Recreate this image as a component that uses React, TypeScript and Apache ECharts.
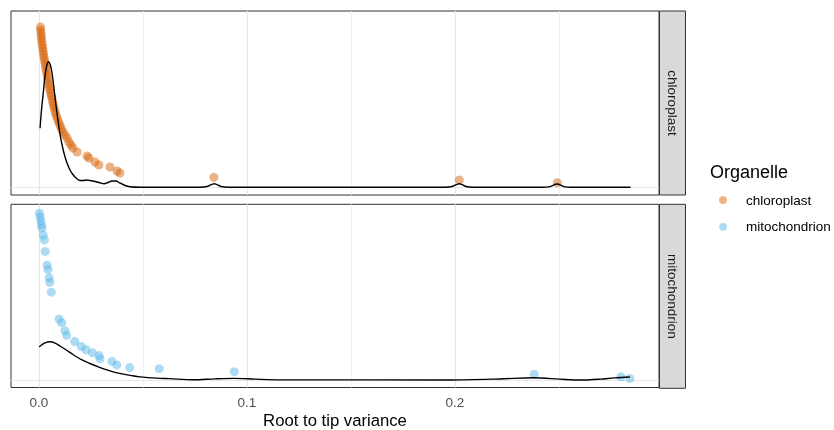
import React, { useEffect, useRef } from "react";
import * as echarts from "echarts";

// Organelles (legend / facet order)
const organelles = ["chloroplast", "mitochondrion"];
const xTickValues = [0, 0.1, 0.2];
const xMinorGrid = [0.05, 0.15, 0.25];

// [root-to-tip variance, relative height]
const chloroplastPoints: number[][] = [
  [0.0007, 160.3], [0.0008, 157.3], [0.001, 154.3], [0.0011, 151.3], [0.0012, 148.3],
  [0.0014, 145.3], [0.0016, 142.3], [0.0018, 139.3], [0.002, 136.3], [0.0022, 133.3],
  [0.0024, 130.3], [0.0026, 127.3], [0.0029, 124.3], [0.0031, 121.3], [0.0034, 118.3],
  [0.0036, 115.3], [0.0039, 112.3], [0.0041, 109.3], [0.0043, 106.3], [0.0047, 103.3],
  [0.005, 100.3], [0.0053, 97.3], [0.0056, 94.3], [0.0059, 91.3], [0.0063, 88.3],
  [0.0066, 85.3], [0.0069, 82.3], [0.0072, 79.3], [0.0077, 76.3], [0.008, 73.3],
  [0.0085, 70.3], [0.0091, 67.3], [0.0096, 64.3], [0.0102, 61.3], [0.0108, 58.3],
  [0.0115, 55.3], [0.0125, 52.3], [0.0135, 49.3], [0.0144, 45.3], [0.0154, 42.3],
  [0.0163, 39.3], [0.0183, 35.3], [0.0231, 31.3], [0.024, 29.3], [0.0269, 25.3],
  [0.0288, 22.3], [0.0341, 20.3], [0.0375, 16.3], [0.0389, 14.3], [0.0841, 10.0],
  [0.2021, 7.3], [0.2492, 4.6],
];

const mitochondrionPoints: number[][] = [
  [0.0002, 167.4], [0.0006, 163.7], [0.0009, 159.7], [0.0012, 155.7], [0.0014, 152.4],
  [0.002, 145.4], [0.0026, 140.7], [0.003, 129], [0.0039, 115.2], [0.0043, 110.7],
  [0.0049, 102.4], [0.0052, 97.9], [0.0059, 88], [0.0097, 61], [0.0109, 57.4],
  [0.0125, 49.4], [0.0133, 44.7], [0.0172, 38.5], [0.0203, 33.5], [0.0226, 30.2],
  [0.0257, 27.2], [0.0289, 24.4], [0.0293, 21.1], [0.0351, 18.5], [0.0374, 15],
  [0.0436, 12.4], [0.0578, 11.2], [0.0939, 8.2], [0.2381, 5.7], [0.2798, 3],
  [0.2841, 1.4],
];

// density curves [variance, relative density]
const chloroplastDensity: number[][] = [
  [0.0005, 59], [0.0012, 77.3], [0.0021, 95.3], [0.0029, 111.3], [0.0037, 121.3],
  [0.0045, 125.6], [0.0053, 123.3], [0.0061, 116.3], [0.0069, 104.3], [0.0077, 90.3],
  [0.0085, 76.3], [0.0093, 64.3], [0.0101, 53.3], [0.0109, 44.3], [0.012, 34.3],
  [0.0133, 25.3], [0.0149, 17.3], [0.0165, 12.3], [0.0181, 8.8], [0.0197, 6.8],
  [0.0213, 6.8], [0.0229, 7.3], [0.0245, 6.8], [0.0269, 5.8], [0.0293, 4.5],
  [0.0313, 3.5], [0.0332, 4.8], [0.0351, 6.3], [0.037, 6.3], [0.0389, 4.3],
  [0.0414, 1.8], [0.0438, 0.5], [0.0486, 0], [0.0774, 0], [0.0808, 0.8],
  [0.0843, 3.6], [0.0875, 0.8], [0.0909, 0], [0.1952, 0], [0.1986, 0.8],
  [0.2021, 3.6], [0.2053, 0.8], [0.2087, 0], [0.2423, 0], [0.2457, 0.7],
  [0.2492, 3.3], [0.2524, 0.7], [0.2558, 0], [0.2844, 0],
];

const mitochondrionDensity: number[][] = [
  [0.0001, 33], [0.0014, 35.2], [0.0029, 37.2], [0.0053, 38.2], [0.0077, 36.9],
  [0.0101, 34], [0.0133, 29.7], [0.0165, 25.2], [0.0205, 20.2], [0.0245, 16.4],
  [0.0285, 13], [0.0326, 10], [0.0365, 7.5], [0.0405, 5.7], [0.0446, 4.2],
  [0.0486, 3], [0.0566, 1.7], [0.063, 1.2], [0.074, 0.1], [0.0846, 1],
  [0.0938, 1.5], [0.1039, 0.7], [0.1159, 0], [0.1976, -0.1], [0.2216, 0.9],
  [0.238, 2.1], [0.2505, 0.7], [0.2601, -0.2], [0.2697, 0.7], [0.2769, 2],
  [0.2841, 2.9],
];

const X_MIN = -0.01346;
const X_MAX = 0.2981;
const Y_MIN = -7.7;
const Y_MAX = 176.3;

const FONT = "'Liberation Sans', Arial, Helvetica, sans-serif";
const COLORS = ["rgba(213,94,0,0.6)", "rgba(86,180,233,0.6)"];

export default function App() {
  const ref = useRef<HTMLDivElement>(null);
  useEffect(() => {
    if (!ref.current) return;
    const chart = echarts.init(ref.current, null, { renderer: "svg" });

    const panels = [
      { top: 11, height: 184 },
      { top: 204.3, height: 184 },
    ];
    const gridMarks = {
      silent: true,
      z: 1,
      symbol: ["none", "none"],
      label: { show: false },
      animation: false,
      data: [
        ...xTickValues.map((v) => ({ xAxis: v, lineStyle: { color: "#E6E6E6", width: 1.1, type: "solid" } })),
        ...xMinorGrid.map((v) => ({ xAxis: v, lineStyle: { color: "#EFEFEF", width: 0.8, type: "solid" } })),
        { yAxis: 0, lineStyle: { color: "#E6E6E6", width: 1.1, type: "solid" } },
      ],
    };

    const pointSets = [chloroplastPoints, mitochondrionPoints];
    const densitySets = [chloroplastDensity, mitochondrionDensity];

    const series: any[] = [];
    organelles.forEach((name, i) => {
      series.push({
        type: "line",
        name: "grid-" + name,
        xAxisIndex: i,
        yAxisIndex: i,
        data: [],
        z: 1,
        markLine: gridMarks,
      });
      series.push({
        type: "scatter",
        name,
        xAxisIndex: i,
        yAxisIndex: i,
        data: pointSets[i],
        symbolSize: 9,
        itemStyle: { color: COLORS[i] },
        z: 3,
      });
      series.push({
        type: "line",
        name: "density-" + name,
        xAxisIndex: i,
        yAxisIndex: i,
        data: densitySets[i],
        showSymbol: false,
        smooth: 0.3,
        lineStyle: { color: "#000", width: 1.4 },
        z: 4,
      });
    });

    const stripGraphics: any[] = [];
    panels.forEach((p, i) => {
      stripGraphics.push({
        type: "rect",
        shape: { x: 659.5, y: p.top, width: 26, height: p.height },
        style: { fill: "#D9D9D9", stroke: "#333333", lineWidth: 1 },
      });
      stripGraphics.push({
        type: "text",
        x: 672.5,
        y: p.top + p.height / 2,
        rotation: -Math.PI / 2,
        style: {
          text: organelles[i],
          fill: "#1A1A1A",
          font: `13.5px ${FONT}`,
          align: "center",
          verticalAlign: "middle",
        },
      });
    });

    chart.setOption({
      animation: false,
      textStyle: { fontFamily: FONT },
      grid: panels.map((p) => ({
        left: 11,
        top: p.top,
        width: 648,
        height: p.height,
        show: true,
        borderColor: "#333333",
        borderWidth: 1,
        backgroundColor: "transparent",
      })),
      xAxis: panels.map((p, i) => ({
        type: "value",
        gridIndex: i,
        min: X_MIN,
        max: X_MAX,
        axisLine: { show: false },
        splitLine: { show: false },
        axisTick:
          i === 1
            ? { show: true, customValues: xTickValues, length: 4, lineStyle: { color: "#333333", width: 1 } }
            : { show: false },
        axisLabel:
          i === 1
            ? {
                show: true,
                customValues: xTickValues,
                formatter: (v: number) => v.toFixed(1),
                color: "#4D4D4D",
                fontSize: 13.5,
                margin: 8,
                fontFamily: FONT,
              }
            : { show: false },
        name: i === 1 ? "Root to tip variance" : "",
        nameLocation: "middle",
        nameGap: 24.5,
        nameTextStyle: { color: "#000", fontSize: 16.7, fontFamily: FONT },
      })),
      yAxis: panels.map((p, i) => ({
        type: "value",
        gridIndex: i,
        min: Y_MIN,
        max: Y_MAX,
        show: false,
        splitLine: { show: false },
      })),
      legend: {
        data: organelles,
        orient: "vertical",
        left: 719,
        top: 193,
        padding: 0,
        itemWidth: 8,
        itemHeight: 8,
        itemGap: 12.7,
        icon: "circle",
        textStyle: { fontSize: 13.5, color: "#000", fontFamily: FONT, padding: [0, 0, 0, 14], lineHeight: 14 },
        selectedMode: false,
      },
      graphic: [
        ...stripGraphics,
        {
          type: "text",
          x: 710,
          y: 172,
          style: {
            text: "Organelle",
            fill: "#000",
            font: `18px ${FONT}`,
            verticalAlign: "middle",
          },
        },
      ],
      series,
    });
    return () => chart.dispose();
  }, []);
  return <div ref={ref} style={{ position: "fixed", left: 0, top: 0, width: 834, height: 430 }} />;
}
